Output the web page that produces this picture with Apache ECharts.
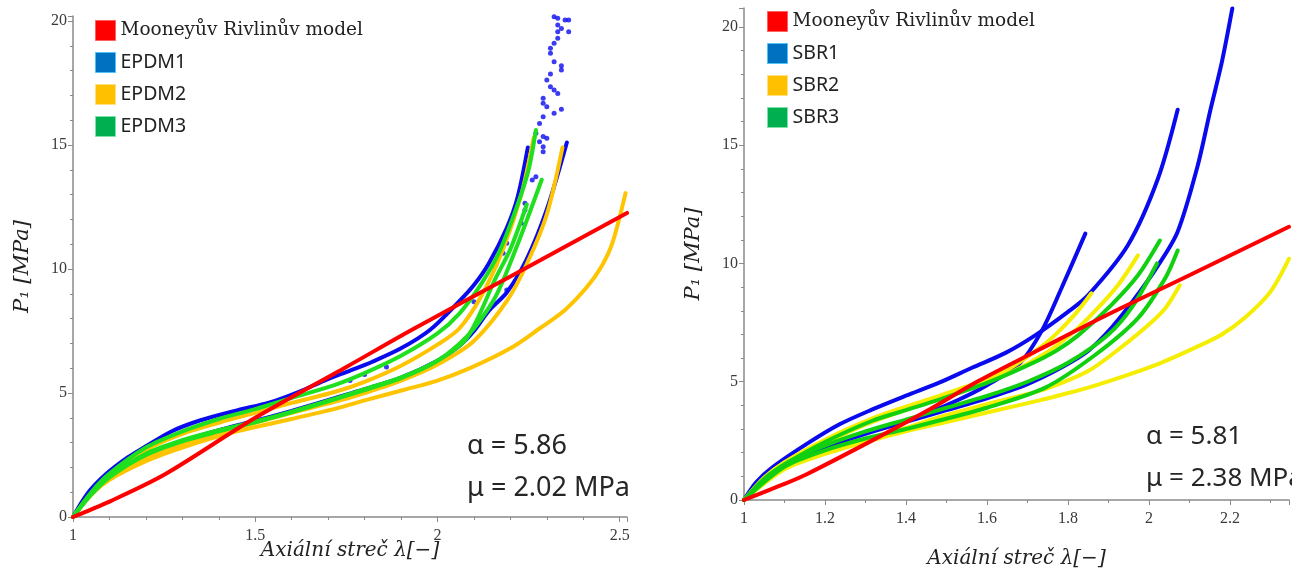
<!DOCTYPE html>
<html><head><meta charset="utf-8">
<script src="https://cdn.jsdelivr.net/npm/echarts@6/dist/echarts.min.js"></script>
<style>html,body{margin:0;padding:0;background:#fff}#c{width:1292px;height:574px}</style>
</head><body><div id="c"></div>
<script>
// ---------- tick labels ----------
const leftXTicks = [1, 1.5, 2, 2.5];
const rightXTicks = [1, 1.2, 1.4, 1.6, 1.8, 2, 2.2];
const yTicks = [0, 5, 10, 15, 20];

// ---------- legend names ----------
const modelName = 'Mooneyův Rivlinův model';
const leftNames = [modelName, 'EPDM1', 'EPDM2', 'EPDM3'];
const rightNames = [modelName, 'SBR1', 'SBR2', 'SBR3'];

// ---------- annotations ----------
const leftNotes = ['α = 5.86', 'μ = 2.02 MPa'];
const rightNotes = ['α = 5.81', 'μ = 2.38 MPa'];

// ---------- LEFT panel (EPDM) [λ, P1] ----------
const epdmModel = [[1,0],[1.1,0.62],[1.25,1.7],[1.5,4.0],[1.75,6.05],[1.93,7.55],[2.2,9.7],[2.52,12.26]];

const epdm1Load = [[1,0],[1.04,0.95],[1.09,1.72],[1.15,2.4],[1.2,2.85],[1.27,3.45],[1.35,3.9],[1.45,4.3],[1.54,4.62],[1.62,5.05],[1.69,5.5],[1.76,5.9],[1.82,6.25],[1.9,6.8],[1.98,7.55],[2.06,8.7],[2.1,9.35],[2.14,10.2],[2.19,11.65],[2.22,12.9],[2.248,14.9]];
const epdm1Unload = [[1,0],[1.05,0.95],[1.1,1.6],[1.2,2.45],[1.3,3.05],[1.4,3.5],[1.5,3.88],[1.6,4.28],[1.72,4.8],[1.8,5.15],[1.9,5.62],[2.0,6.3],[2.06,6.9],[2.1,7.5],[2.14,8.3],[2.19,9.05],[2.245,10.4],[2.3,12.4],[2.355,15.1]];
const epdm1Points = [[2.32,20.17],[2.33,20.11],[2.35,20.04],[2.36,20.04],[2.33,19.84],[2.34,19.7],[2.33,19.57],[2.36,19.57],[2.33,19.3],[2.32,19.1],[2.31,18.9],[2.31,18.7],[2.32,18.36],[2.34,18.19],[2.34,18.02],[2.31,17.86],[2.3,17.62],[2.31,17.35],[2.32,17.22],[2.33,17.08],[2.29,16.88],[2.29,16.68],[2.3,16.54],[2.34,16.44],[2.32,16.28],[2.29,16.14],[2.28,15.87],[2.27,15.47],[2.29,15.34],[2.3,15.27],[2.28,15.13],[2.29,14.93],[2.29,14.73],[2.27,13.72],[2.26,13.59],[2.24,12.65],[2.24,12.38],[2.23,11.84],[2.19,11.04],[2.18,10.63],[2.16,10.16],[2.19,9.15],[2.1,8.68],[1.76,5.5],[1.8,5.75],[1.86,6.05]];

const epdm2A = [[1,0],[1.05,0.95],[1.1,1.7],[1.2,2.7],[1.3,3.35],[1.4,3.8],[1.5,4.2],[1.6,4.6],[1.72,5.05],[1.8,5.45],[1.9,6.1],[2.0,6.95],[2.06,7.6],[2.12,8.9],[2.18,10.8],[2.23,13.0],[2.264,15.3]];
const epdm2B = [[1,0],[1.05,0.9],[1.1,1.55],[1.2,2.35],[1.3,2.95],[1.4,3.4],[1.5,3.8],[1.6,4.2],[1.72,4.65],[1.8,5.0],[1.9,5.5],[2.0,6.15],[2.1,7.1],[2.19,8.7],[2.245,10.2],[2.3,12.2],[2.343,14.9]];
const epdm2C = [[1,0],[1.05,0.9],[1.1,1.5],[1.2,2.25],[1.3,2.8],[1.449,3.45],[1.6,3.95],[1.723,4.38],[1.8,4.7],[1.906,5.12],[2.0,5.5],[2.089,6.0],[2.2,6.8],[2.28,7.6],[2.35,8.35],[2.41,9.27],[2.45,10.1],[2.48,11.05],[2.516,13.06]];

const epdm3A = [[1,0],[1.05,1.0],[1.1,1.75],[1.2,2.8],[1.3,3.45],[1.4,3.95],[1.5,4.35],[1.6,4.8],[1.723,5.35],[1.8,5.8],[1.9,6.5],[2.0,7.4],[2.06,8.2],[2.12,9.4],[2.17,10.7],[2.22,12.6],[2.25,14.0],[2.27,15.6]];
const epdm3B = [[1,0],[1.05,0.95],[1.1,1.65],[1.2,2.55],[1.3,3.1],[1.4,3.5],[1.5,3.85],[1.6,4.25],[1.723,4.79],[1.8,5.15],[1.906,5.66],[2.0,6.3],[2.061,7.0],[2.1,7.6],[2.16,8.9],[2.22,11.0],[2.286,13.6]];
const epdm3C = [[1,0],[1.05,0.9],[1.1,1.6],[1.2,2.5],[1.3,3.05],[1.4,3.45],[1.5,3.82],[1.6,4.22],[1.72,4.75],[1.8,5.12],[1.9,5.6],[2.0,6.3],[2.08,7.2],[2.16,9.64],[2.2,10.8],[2.245,12.6]];

// ---------- RIGHT panel (SBR) [λ, P1] ----------
const sbrModel = [[1,0],[1.1,0.68],[1.155,1.09],[1.317,2.52],[1.45,3.75],[1.58,5.04],[1.727,6.34],[1.9,7.85],[2.1,9.5],[2.346,11.55]];

const sbr1A = [[1,0],[1.03,0.75],[1.071,1.39],[1.155,2.37],[1.236,3.2],[1.317,3.83],[1.4,4.41],[1.482,4.96],[1.563,5.59],[1.646,6.22],[1.72,6.97],[1.8,7.95],[1.85,8.66],[1.948,10.77],[2.022,13.57],[2.071,16.5]];
const sbr1B = [[1,0],[1.05,0.9],[1.1,1.45],[1.155,1.94],[1.317,2.94],[1.425,3.49],[1.53,4.24],[1.6,4.85],[1.678,5.72],[1.735,7.14],[1.784,8.95],[1.843,11.26]];
const sbr1C = [[1,0],[1.1,1.45],[1.2,2.2],[1.3,2.8],[1.4,3.3],[1.5,3.8],[1.6,4.3],[1.7,4.9],[1.784,5.6],[1.85,6.3],[1.907,7.27],[1.96,8.4],[2.022,9.9],[2.071,11.34],[2.12,14.1],[2.152,16.5],[2.18,18.5],[2.206,20.78]];

const sbr2A = [[1,0],[1.05,0.95],[1.1,1.6],[1.2,2.55],[1.317,3.45],[1.4,3.95],[1.482,4.4],[1.56,4.85],[1.646,5.3],[1.744,6.2],[1.8,6.9],[1.85,7.69],[1.92,9.0],[1.973,10.34]];
const sbr2B = [[1,0],[1.1,1.5],[1.2,2.4],[1.317,3.3],[1.482,4.3],[1.6,5.1],[1.66,5.6],[1.72,6.3],[1.768,6.97],[1.82,7.9],[1.858,8.74]];
const sbr2C = [[1,0],[1.1,1.35],[1.2,2.0],[1.3,2.55],[1.4,3.05],[1.482,3.5],[1.6,4.05],[1.727,4.6],[1.785,4.95],[1.85,5.45],[1.907,6.13],[1.99,7.27],[2.04,8.1],[2.076,9.08]];
const sbr2D = [[1,0],[1.1,1.3],[1.2,1.95],[1.3,2.45],[1.4,2.9],[1.5,3.3],[1.6,3.7],[1.727,4.2],[1.784,4.45],[1.85,4.75],[1.948,5.29],[2.03,5.8],[2.113,6.43],[2.18,7.0],[2.236,7.69],[2.3,8.8],[2.346,10.2]];

const sbr3A = [[1,0],[1.05,0.9],[1.1,1.5],[1.2,2.45],[1.317,3.35],[1.4,3.8],[1.482,4.24],[1.6,4.95],[1.703,5.71],[1.77,6.3],[1.826,6.97],[1.907,8.24],[1.973,9.5],[2.027,10.97]];
const sbr3B = [[1,0],[1.1,1.4],[1.2,2.1],[1.3,2.6],[1.4,3.0],[1.482,3.36],[1.6,3.9],[1.744,4.75],[1.867,6.13],[1.973,7.69],[2.04,9.37],[2.071,10.55]];
const sbr3C = [[1,0],[1.1,1.5],[1.2,2.3],[1.3,2.9],[1.4,3.4],[1.5,3.9],[1.6,4.4],[1.7,5.0],[1.8,5.8],[1.9,7.0],[1.96,8.2],[2.02,10.0]];

// ---------- colours ----------
const cRed = '#ff0000';
const cBlue = '#0a0aef';
const cGoldL = '#ffc400';
const cGreenL = '#1ee01e';
const cYellowR = '#f5ee00';
const cGreenR = '#10d010';

function line(name, data, color, gi) {
  return { type: 'line', name, data, xAxisIndex: gi, yAxisIndex: gi,
    showSymbol: false, smooth: 0.3,
    lineStyle: { color, width: 4, cap: 'round' }, itemStyle: { color },
    emphasis: { disabled: true }, silent: true };
}

const series = [
  line('EPDM1', epdm1Load, cBlue, 0),
  line('EPDM1', epdm1Unload, cBlue, 0),
  { type: 'scatter', name: 'EPDM1', data: epdm1Points, xAxisIndex: 0, yAxisIndex: 0,
    symbolSize: 5, itemStyle: { color: cBlue }, clip: false, silent: true },
  line('EPDM2', epdm2A, cGoldL, 0),
  line('EPDM2', epdm2B, cGoldL, 0),
  line('EPDM2', epdm2C, cGoldL, 0),
  line('EPDM3', epdm3A, cGreenL, 0),
  line('EPDM3', epdm3B, cGreenL, 0),
  line('EPDM3', epdm3C, cGreenL, 0),
  line(modelName, epdmModel, cRed, 0),

  line('SBR1', sbr1A, cBlue, 1),
  line('SBR1', sbr1B, cBlue, 1),
  line('SBR1', sbr1C, cBlue, 1),
  line('SBR2', sbr2A, cYellowR, 1),
  line('SBR2', sbr2B, cYellowR, 1),
  line('SBR2', sbr2C, cYellowR, 1),
  line('SBR2', sbr2D, cYellowR, 1),
  line('SBR3', sbr3A, cGreenR, 1),
  line('SBR3', sbr3B, cGreenR, 1),
  line('SBR3', sbr3C, cGreenR, 1),
  line(modelName, sbrModel, cRed, 1)
];

const legendColors = { [modelName]: ['#ff0000', '#ff6060'],
  EPDM1: ['#0070c0', '#4fc3f7'], SBR1: ['#0070c0', '#4fc3f7'],
  EPDM2: ['#ffc000', '#ffe080'], SBR2: ['#ffc000', '#ffe080'],
  EPDM3: ['#00b050', '#7fe0a8'], SBR3: ['#00b050', '#7fe0a8'] };

function legendData(names) {
  return names.map(n => ({ name: n, icon: 'rect',
    itemStyle: { color: legendColors[n][0], borderColor: legendColors[n][1], borderWidth: 1 },
    textStyle: n === modelName
      ? { fontFamily: 'DejaVu Serif', fontSize: 18.5, color: '#222' }
      : { fontFamily: 'Noto Sans', fontSize: 19.5, color: '#222' } }));
}

const axisCol = '#8a8a8a';
const labelStyle = { fontFamily: 'Liberation Serif', fontSize: 16, color: '#3a3a3a' };
const nameStyle = { fontFamily: 'DejaVu Serif', fontStyle: 'italic', fontSize: 20, color: '#222' };
const yNameStyle = { fontFamily: 'DejaVu Serif', fontStyle: 'italic', fontSize: 21, color: '#222' };

function onTick(list, v) {
  const t = list.find(t => Math.abs(t - v) < 1e-6);
  return t === undefined ? '' : String(t);
}

function xAxis(gi, min, max, interval, ticks, split, gap) {
  return { type: 'value', gridIndex: gi, min, max, interval,
    name: 'Axiální streč λ[−]', nameLocation: 'middle', nameGap: gap, nameTextStyle: nameStyle,
    nameMoveOverlap: false,
    axisLine: { onZero: false, lineStyle: { color: axisCol, width: 1.5 } },
    axisTick: { length: 5, lineStyle: { color: axisCol } },
    minorTick: { show: true, splitNumber: split, length: 3, lineStyle: { color: axisCol } },
    splitLine: { show: false },
    axisLabel: Object.assign({ margin: 11, formatter: v => onTick(ticks, v) }, labelStyle) };
}
function yAxis(gi, max, gap) {
  return { type: 'value', gridIndex: gi, min: 0, max, interval: 5,
    name: 'P₁ [MPa]', nameLocation: 'middle', nameGap: gap, nameTextStyle: yNameStyle,
    nameMoveOverlap: false,
    axisLine: { onZero: false, lineStyle: { color: axisCol, width: 1.5 } },
    axisTick: { length: 5, lineStyle: { color: axisCol } },
    minorTick: { show: true, splitNumber: 5, length: 3, lineStyle: { color: axisCol } },
    splitLine: { show: false },
    axisLabel: Object.assign({ margin: 6, formatter: v => onTick(yTicks, v) }, labelStyle) };
}

function note(x, y, text, size) {
  return { type: 'text', left: x, top: y, silent: true,
    style: { text, fontFamily: 'Noto Sans', fontSize: size, fill: '#262626' } };
}

const chart = echarts.init(document.getElementById('c'), null, { renderer: 'canvas' });
chart.setOption({
  animation: false,
  backgroundColor: '#ffffff',
  grid: [
    { left: 73, top: 16, width: 554, height: 501, containLabel: false },
    { left: 744, top: 8, width: 548, height: 495, containLabel: false }
  ],
  xAxis: [ xAxis(0, 1, 2.52, 0.5, leftXTicks, 5, 24), xAxis(1, 1, 2.346, 0.2, rightXTicks, 2, 49) ],
  yAxis: [ yAxis(0, 20.2, 40), yAxis(1, 20.8, 40) ],
  legend: [
    { left: 90, top: 15, orient: 'vertical', itemWidth: 20, itemHeight: 20, itemGap: 11,
      selectedMode: false, data: legendData(leftNames) },
    { left: 762, top: 6, orient: 'vertical', itemWidth: 20, itemHeight: 20, itemGap: 11,
      selectedMode: false, data: legendData(rightNames) }
  ],
  graphic: [
    note(467, 433, leftNotes[0], 27), note(467, 475, leftNotes[1], 27),
    note(1146, 424, rightNotes[0], 26), note(1146, 466, rightNotes[1], 26)
  ],
  series
});
</script></body></html>
